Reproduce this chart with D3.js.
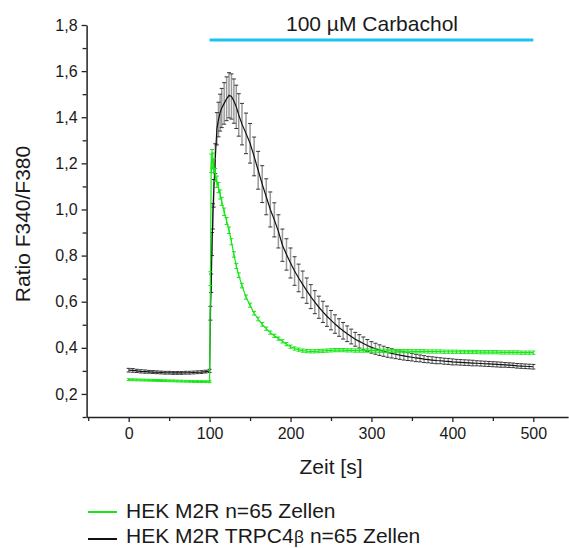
<!DOCTYPE html>
<html>
<head>
<meta charset="utf-8">
<script src="https://cdn.jsdelivr.net/npm/d3@7"></script>
<style>
  html, body { margin: 0; padding: 0; background: #fff; }
  text { font-family: "Liberation Sans", Arial, sans-serif; fill: #1a1a1a; }
</style>
</head>
<body>
<div id="chart"></div>
<script>
// time points [s], shared by both series
const times = [
  0, 5, 10, 15, 20, 25, 30, 35, 40, 45, 50, 55, 60, 65, 70, 75, 80, 85, 90, 95, 100,
  101, 102, 103, 104, 105, 107, 109, 111, 113, 115, 118, 121, 124, 127, 130, 133, 136,
  140, 145, 150, 155, 160, 165, 170, 175, 180, 185, 190, 195, 200, 205, 210, 215, 220, 225, 230, 235, 240, 245, 250,
  255, 260, 265, 270, 275, 280, 285, 290, 295, 300, 305, 310, 315, 320, 325, 330, 335, 340, 345, 350,
  355, 360, 365, 370, 375, 380, 385, 390, 395, 400, 405, 410, 415, 420, 425, 430, 435, 440, 445, 450,
  455, 460, 465, 470, 475, 480, 485, 490, 495, 500
];

// HEK M2R (green)
const m2rMean = [
  .262, .2615, .261, .2605, .260, .2595, .259, .2585, .258, .2575, .257, .2565, .256, .2555, .255, .2545, .254, .2538, .2535, .2532, .253,
  .70, 1.20, 1.22, 1.21, 1.19, 1.15, 1.12, 1.095, 1.065, 1.035, .99, .95, .91, .86, .805, .755, .715,
  .67, .62, .585, .55, .525, .502, .483, .466, .452, .44, .428, .416, .405, .397, .392, .388, .386, .385, .385, .386, .387, .388, .389,
  .390, .390, .390, .389, .389, .388, .388, .388, .388, .388, .388, .387, .387, .387, .387, .386, .386, .386, .386, .385,
  .385, .385, .385, .384, .384, .384, .384, .383, .383, .383, .383, .382, .382, .382, .382,
  .382, .381, .381, .381, .381, .381, .380, .380, .380, .380, .380, .379, .379, .379, .379
];
const m2rSem = [
  .004, .004, .004, .004, .004, .004, .004, .004, .004, .004, .004, .004, .004, .004, .004, .004, .004, .004, .004, .004, .004,
  .03, .04, .04, .035, .03, .028, .025, .022, .02, .018, .016, .015, .014, .013, .012, .011, .01,
  .01, .009, .009, .008, .008, .008, .007, .007, .007, .007, .007, .007, .007, .007, .007, .007, .007, .007, .007, .007, .007, .007, .007,
  .007, .007, .007, .007, .007, .007, .007, .007, .007, .007, .007, .007, .007, .007, .007, .007, .007, .007, .007, .007,
  .007, .007, .007, .007, .007, .007, .007, .007, .007, .007, .007, .007, .007, .007, .007,
  .007, .007, .007, .007, .007, .007, .007, .007, .007, .007, .007, .007, .007, .007, .007
];

// HEK M2R TRPC4beta (black)
const trpcMean = [
  .303, .302, .300, .298, .297, .296, .295, .294, .293, .292, .292, .291, .291, .291, .292, .292, .293, .294, .295, .297, .300,
  .55, .68, .85, .97, 1.07, 1.22, 1.35, 1.39, 1.42, 1.44, 1.46, 1.48, 1.495, 1.49, 1.47, 1.445, 1.41,
  1.37, 1.33, 1.287, 1.23, 1.17, 1.11, 1.055, 1.00, .955, .905, .845, .805, .768, .733, .703, .675, .648, .622, .598, .576, .556, .537, .52,
  .503, .488, .474, .461, .449, .437, .428, .419, .41, .402, .396, .39, .385, .38, .376, .372, .368, .365, .362, .359,
  .356, .354, .351, .349, .347, .345, .344, .342, .341, .339, .338, .337, .336, .335, .334,
  .333, .332, .331, .330, .329, .328, .327, .326, .325, .324, .322, .321, .320, .319, .318
];
const trpcSem = [
  .008, .008, .007, .007, .007, .006, .006, .006, .006, .006, .006, .006, .006, .006, .006, .006, .006, .006, .006, .006, .007,
  .03, .04, .05, .055, .06, .065, .07, .075, .08, .085, .09, .095, .098, .098, .096, .094, .092,
  .09, .088, .086, .084, .082, .08, .078, .076, .074, .072, .07, .068, .065, .062, .06, .058, .055, .052, .05, .048, .046, .044, .042,
  .04, .038, .036, .034, .032, .03, .029, .028, .026, .025, .024, .023, .022, .021, .02, .019, .018, .018, .017, .016,
  .016, .015, .015, .014, .014, .014, .013, .013, .013, .013, .012, .012, .012, .012, .012,
  .011, .011, .011, .011, .011, .011, .011, .010, .010, .010, .010, .010, .010, .010, .010
];

const xTicks = [0, 100, 200, 300, 400, 500];
const xMinor = [-50, 50, 150, 250, 350, 450];
const yTicks = [0.2, 0.4, 0.6, 0.8, 1.0, 1.2, 1.4, 1.6, 1.8];
const yMinor = [0.1, 0.3, 0.5, 0.7, 0.9, 1.1, 1.3, 1.5, 1.7];
const carbachol = [100, 500];
const seriesNames = ["HEK M2R n=65 Zellen", "HEK M2R TRPC4"];

const W = 569, H = 548;
const GREEN = "#17e617";
const BLUE = "#1cc3f0";

const svg = d3.select("#chart").append("svg")
  .attr("width", W)
  .attr("height", H);

const x = d3.scaleLinear().domain([-52, 543]).range([86.6, 568.1]);
const y = d3.scaleLinear().domain([0.1, 1.8]).range([417, 25]);

const fmt = d => d3.format(".1f")(d).replace(".", ",");

// axes (major + minor ticks)
svg.append("g")
  .attr("transform", `translate(0,${y(0.1)})`)
  .call(d3.axisBottom(x).tickValues(xTicks).tickSize(5).tickPadding(6).tickSizeOuter(0));
svg.append("g")
  .attr("transform", `translate(0,${y(0.1)})`)
  .call(d3.axisBottom(x).tickValues(xMinor).tickSize(4).tickFormat("").tickSizeOuter(0))
  .select(".domain").remove();

svg.append("g")
  .attr("transform", `translate(${x(-52)},0)`)
  .call(d3.axisLeft(y).tickValues(yTicks).tickSize(5).tickPadding(4).tickFormat(fmt).tickSizeOuter(0));
svg.append("g")
  .attr("transform", `translate(${x(-52)},0)`)
  .call(d3.axisLeft(y).tickValues(yMinor).tickSize(4).tickFormat("").tickSizeOuter(0))
  .select(".domain").remove();

svg.selectAll(".domain").attr("stroke", "#222").attr("stroke-width", 1.5);
svg.selectAll(".tick line").attr("stroke", "#222").attr("stroke-width", 1.3);
svg.selectAll(".tick text")
  .attr("font-size", 16)
  .attr("font-family", "Liberation Sans, Arial, sans-serif")
  .attr("fill", "#1a1a1a");

// axis titles
svg.append("text")
  .attr("transform", `translate(30,${(y(0.1) + y(1.8)) / 2 + 3}) rotate(-90)`)
  .attr("text-anchor", "middle")
  .attr("font-size", 21)
  .text("Ratio F340/F380");

svg.append("text")
  .attr("x", 331)
  .attr("y", 474)
  .attr("text-anchor", "middle")
  .attr("font-size", 21)
  .text("Zeit [s]");

// carbachol bar
svg.append("line")
  .attr("x1", x(carbachol[0]))
  .attr("x2", x(carbachol[1]))
  .attr("y1", 40).attr("y2", 40)
  .attr("stroke", BLUE)
  .attr("stroke-width", 3);
svg.append("text")
  .attr("x", 372)
  .attr("y", 31)
  .attr("text-anchor", "middle")
  .attr("font-size", 21)
  .text("100 \u00b5M Carbachol");

// series with error bars
function drawSeries(mean, sem, barColor, capColor, lineColor, barWidth) {
  const pts = times.map((t, i) => ({ t: t, m: mean[i], s: sem[i] }));
  const g = svg.append("g");
  g.selectAll("line.bar")
    .data(pts)
    .enter().append("line")
    .attr("class", "bar")
    .attr("x1", d => x(d.t)).attr("x2", d => x(d.t))
    .attr("y1", d => y(d.m - d.s)).attr("y2", d => y(d.m + d.s))
    .attr("stroke", barColor)
    .attr("stroke-width", barWidth);
  [-1, 1].forEach(sign => {
    g.selectAll("line.cap" + (sign + 1))
      .data(pts)
      .enter().append("line")
      .attr("class", "cap" + (sign + 1))
      .attr("x1", d => x(d.t) - 2).attr("x2", d => x(d.t) + 2)
      .attr("y1", d => y(d.m + sign * d.s)).attr("y2", d => y(d.m + sign * d.s))
      .attr("stroke", capColor)
      .attr("stroke-width", 1);
  });
  g.append("path")
    .datum(pts)
    .attr("fill", "none")
    .attr("stroke", lineColor)
    .attr("stroke-width", 1.2)
    .attr("d", d3.line().x(d => x(d.t)).y(d => y(d.m)));
}

drawSeries(trpcMean, trpcSem, "#9a9a9a", "#333", "#111", 1.5);
drawSeries(m2rMean, m2rSem, GREEN, GREEN, GREEN, 1);

// legend
const legend = svg.append("g");
[GREEN, "#111"].forEach((c, i) => {
  legend.append("line")
    .attr("x1", 88).attr("x2", 117)
    .attr("y1", 512 + i * 27).attr("y2", 512 + i * 27)
    .attr("stroke", c)
    .attr("stroke-width", 2);
  const t = legend.append("text")
    .attr("x", 126)
    .attr("y", 518 + i * 24.5)
    .attr("font-size", 21)
    .text(seriesNames[i]);
  if (i === 1) {
    t.append("tspan").attr("font-family", "Noto Sans, DejaVu Sans, sans-serif").attr("font-size", 17).text("\u03b2");
    t.append("tspan").text(" n=65 Zellen");
  }
});
</script>
</body>
</html>
